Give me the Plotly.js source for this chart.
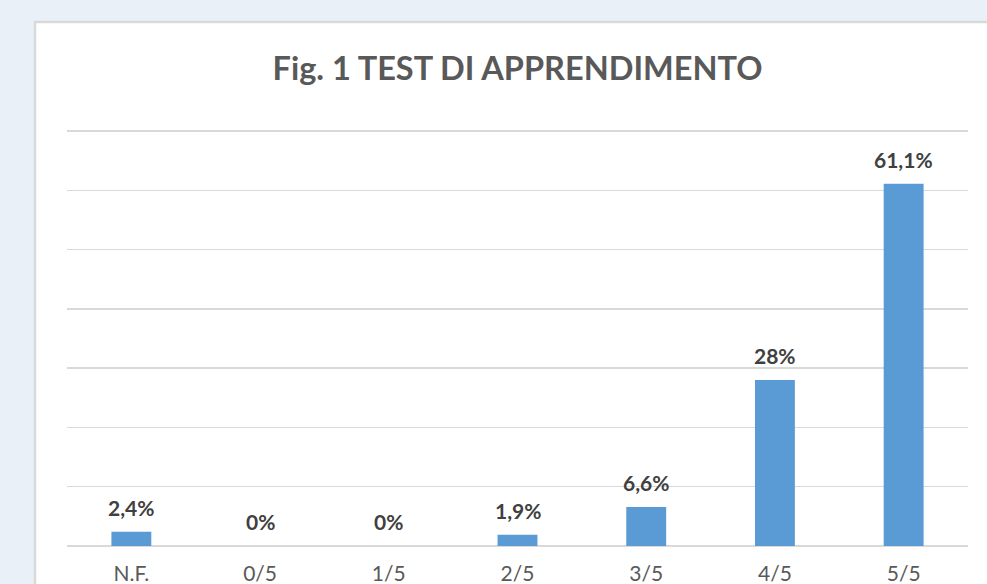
<!DOCTYPE html>
<html>
<head>
<meta charset="utf-8">
<script src="https://cdn.plot.ly/plotly-3.0.1.min.js"></script>
<style>html,body{margin:0;padding:0;background:#e9f0f8;}#chart{width:987px;height:584px;}</style>
</head>
<body>
<div id="chart"></div>
<script>
const categories = ["N.F.", "0/5", "1/5", "2/5", "3/5", "4/5", "5/5"];
const values = [2.4, 0, 0, 1.9, 6.6, 28, 61.1];
const valueLabels = values.map(v => String(v).replace('.', ',') + '%');

const trace = {
  type: 'bar',
  x: categories,
  y: values,
  marker: {color: '#5b9bd5', line: {width: 0}},
  hoverinfo: 'skip'
};

const annotations = categories.map((c, i) => ({
  x: c, y: values[i], xref: 'x', yref: 'y',
  text: '<b>' + valueLabels[i] + '</b>',
  showarrow: false, xanchor: 'center', yanchor: 'bottom', yshift: 10,
  font: {family: 'Lato, "Open Sans", sans-serif', size: 21, color: '#404040'}
}));

const layout = {
  width: 987, height: 584,
  paper_bgcolor: '#e9f0f8',
  plot_bgcolor: 'rgba(0,0,0,0)',
  margin: {l: 67, r: 19, t: 128, b: 35},
  bargap: 0.69,
  showlegend: false,
  title: {
    text: '<b>Fig. 1 TEST DI APPRENDIMENTO</b>',
    font: {family: 'Lato, "Open Sans", sans-serif', size: 32.5, color: '#595959'},
    xref: 'paper', x: 0.5, xanchor: 'center',
    yref: 'container', y: 1 - 69/584, yanchor: 'middle'
  },
  xaxis: {
    type: 'category',
    showgrid: false, zeroline: false, showline: false,
    ticks: '', ticklen: 0, ticklabelstandoff: 10,
    tickfont: {family: 'Lato, "Open Sans", sans-serif', size: 21, color: '#595959'}
  },
  yaxis: {
    range: [-0.5, 70.5], tick0: 0, dtick: 10,
    showgrid: true, gridcolor: '#d9d9d9', gridwidth: 1.5,
    zeroline: false, showticklabels: false, ticks: ''
  },
  annotations: annotations,
  shapes: [{
    type: 'rect', layer: 'below',
    xref: 'paper', yref: 'paper',
    x0: (35 - 67) / 901, x1: 1.2,
    y0: -0.3, y1: 1 + (128 - 22) / 421,
    fillcolor: '#ffffff',
    line: {color: '#d9d9d9', width: 2.5}
  }]
};

Plotly.newPlot('chart', [trace], layout, {displayModeBar: false, staticPlot: true});
</script>
</body>
</html>
